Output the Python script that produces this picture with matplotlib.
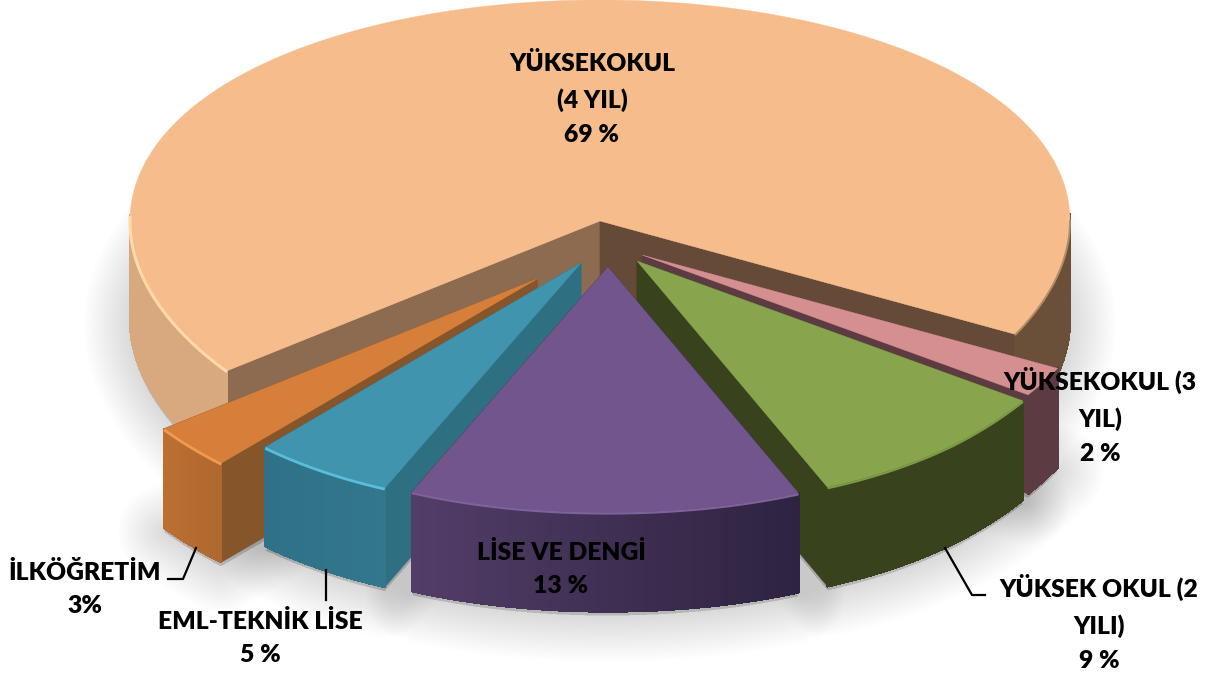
import numpy as np
import matplotlib
matplotlib.use("Agg")
import matplotlib.pyplot as plt
from matplotlib.patches import Polygon
from matplotlib.collections import PolyCollection
from matplotlib.colors import to_rgb

plt.rcParams['font.family'] = ['Lato', 'DejaVu Sans']

# ---- data
categories = ["YÜKSEKOKUL (4 YIL)", "YÜKSEKOKUL (3 YIL)", "YÜKSEK OKUL (2 YILI)",
              "LİSE VE DENGİ", "EML-TEKNİK LİSE", "İLKÖĞRETİM"]
shares = [69, 2, 9, 13, 5, 3]
labels = ["YÜKSEKOKUL\n(4 YIL)\n69 %", "YÜKSEKOKUL (3\nYIL)\n2 %", "YÜKSEK OKUL (2\nYILI)\n9 %",
          "LİSE VE DENGİ\n13 %", "EML-TEKNİK LİSE\n5 %", "İLKÖĞRETİM\n3%"]

# ---- styling / layout
top_col = ["#F6BC8C", "#D58F90", "#88A44D", "#72558D", "#4094AE", "#D67F3B"]
side_l = ["#D8A97F", "#5C3C42", "#38431E", "#523D68", "#2F7287", "#BC6F33"]
side_r = ["#6A5039", "#5C3C42", "#38431E", "#2E2340", "#33778C", "#AE682F"]
cut_start = ["#8C6B50", "#5C3C42", "#38431E", "#3C2D50", "#2F6F82", "#87552A"]
cut_end = ["#654B37", "#5C3C42", "#38431E", "#3C2D50", "#2F6F82", "#87552A"]
rim = ["#FFD9A8", None, "#7D9A45", "#7E629B", "#58BEDC", "#F09A50"]
rim_lw = [2.2, 0, 1.4, 1.6, 2.0, 2.0]
apex_xy = [(600, 221), (642, 255), (637, 261), (608, 267), (581, 263), (537, 279)]
label_xy = [(592, 99), (1100, 416), (1099, 623), (561, 569), (260, 638), (85, 589)]
draw_order = [0, 1, 2, 5, 4, 3]
leaders = [([196, 183, 168], [548, 579, 579]), ([326, 326], [570, 600]), ([945, 972, 985], [548, 595, 595])]
start_deg, rx, ry0, ry1, depth = 28.0, 470.0, 235.0, 14.0, 99.0

fig = plt.figure(figsize=(12.14, 6.77), dpi=100, facecolor="white")
ax = fig.add_axes([0, 0, 1, 1])
ax.set_xlim(0, 1214)
ax.set_ylim(677, 0)
ax.axis("off")


def pt(t, apex):
    c, s = np.cos(t), np.sin(t)
    grow = 1 + 0.07 * np.clip(s, 0, 1) ** 5
    return apex[0] + rx * grow * c, apex[1] + s * (ry0 + ry1 * np.minimum(s, 0.75))


total = sum(shares)
seq = [1, 2, 3, 4, 5, 0]
edges = np.radians(start_deg + 360 * np.cumsum([0] + [shares[i] for i in seq]) / total)
span = {i: (edges[n], edges[n + 1]) for n, i in enumerate(seq)}

geo = {}
for i in range(6):
    t = np.linspace(span[i][0], span[i][1], 300 if i == 0 else 60)
    x, y = pt(t, apex_xy[i])
    geo[i] = (t, x, y)

# soft ground shadows
for i in range(6):
    t, x, y = geo[i]
    a = apex_xy[i]
    poly = np.column_stack([np.r_[a[0], x], np.r_[a[1], y] + depth + 4])
    for lw in np.linspace(66, 4, 18):
        ax.add_patch(Polygon(poly, closed=True, facecolor="k", edgecolor="k", lw=lw,
                             alpha=0.009, joinstyle="round", zorder=1))

z = 2
for i in draw_order:
    t, x, y = geo[i]
    a = apex_xy[i]
    for j, col in ((0, cut_start[i]), (-1, cut_end[i])):
        ax.add_patch(Polygon([(a[0], a[1]), (x[j], y[j]), (x[j], y[j] + depth), (a[0], a[1] + depth)],
                             closed=True, fc=col, ec=col, lw=0.5, zorder=z))
    z += 1
    quads, cols = [], []
    cl, cr = np.array(to_rgb(side_l[i])), np.array(to_rgb(side_r[i]))
    xmin, xmax = x.min(), x.max()
    for k in range(len(t) - 1):
        if np.sin(t[k]) < -0.02 and np.sin(t[k + 1]) < -0.02:
            continue
        quads.append([(x[k], y[k]), (x[k + 1], y[k + 1]), (x[k + 1], y[k + 1] + depth), (x[k], y[k] + depth)])
        if i == 0:
            cols.append(cl if np.cos(t[k]) < 0 else cr)
        else:
            f = (0.5 * (x[k] + x[k + 1]) - xmin) / (xmax - xmin)
            cols.append(cl * (1 - f) + cr * f)
    ax.add_collection(PolyCollection(quads, facecolors=cols, edgecolors=cols, linewidths=1.0,
                                     antialiased=False, zorder=z))
    z += 1
    ax.add_patch(Polygon(np.column_stack([np.r_[a[0], x], np.r_[a[1], y]]), closed=True,
                         fc=top_col[i], ec=top_col[i], lw=0.3, zorder=z))
    z += 1
    if rim[i]:
        m = np.sin(t) > 0
        if i == 0:
            m = (np.sin(t) > -0.03) & (np.cos(t) < 0)
        ax.plot(x[m], y[m] + 1, color=rim[i], lw=rim_lw[i], solid_capstyle="butt", zorder=z)
        z += 1

# shaded right edge of the large slice
t0, x0, y0 = geo[0]
m0 = (np.cos(t0) > 0) & (np.sin(t0) > 0.0)
ax.plot(x0[m0], y0[m0], color="#B08C68", lw=1.4, zorder=z)
z += 1

for lx, ly in leaders:
    ax.plot(lx, ly, color="black", lw=1.6, zorder=z)
z += 1

for (tx, ty), s in zip(label_xy, labels):
    ax.text(tx, ty, s, ha="center", va="center", fontsize=17.7, fontweight=800,
            color="black", linespacing=1.66, zorder=z)

fig.savefig("out.png", dpi=100)
